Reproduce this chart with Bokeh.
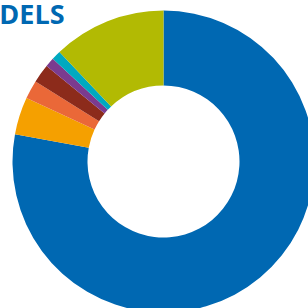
import numpy as np
from bokeh.plotting import figure
from bokeh.models import Range1d
from bokeh.core.properties import value
from bokeh.embed import file_html
from bokeh.resources import INLINE

# data (clockwise from 12 o'clock)
labels = ["Blue", "Orange", "Red", "Dark red", "Purple", "Teal", "Olive"]
values = [77.9, 4.0, 2.0, 2.0, 1.0, 1.0, 12.1]
colors = ["#0068B2", "#F5A000", "#EA6838", "#8C2B1B", "#7B3B8F", "#00A9C0", "#B2BA03"]
title_text = "MODELS"

W = H = 308
p = figure(width=W, height=H, output_backend="svg", toolbar_location=None,
           x_range=Range1d(0, W), y_range=Range1d(0, H), min_border=0)
p.axis.visible = False
p.grid.visible = False
p.outline_line_color = None
p.background_fill_color = "white"
p.border_fill_color = "white"

vals = np.array(values, dtype=float)
frac = vals / vals.sum()
cum = np.concatenate([[0], np.cumsum(frac)])
start = np.pi / 2 - cum[:-1] * 2 * np.pi
end = np.pi / 2 - cum[1:] * 2 * np.pi

cx, cy = 163, H - 161
p.annular_wedge(x=cx, y=cy, inner_radius=76, outer_radius=151,
                start_angle=list(start), end_angle=list(end), direction="clock",
                fill_color=colors, line_color=None)

p.text(x=[64], y=[H - 13], text=[title_text], text_font=value("Open Sans"),
       text_font_style="bold", text_font_size="27px", text_color="#0068B2",
       text_align="right", text_baseline="alphabetic")

open("out.html", "w").write(file_html(p, INLINE))
